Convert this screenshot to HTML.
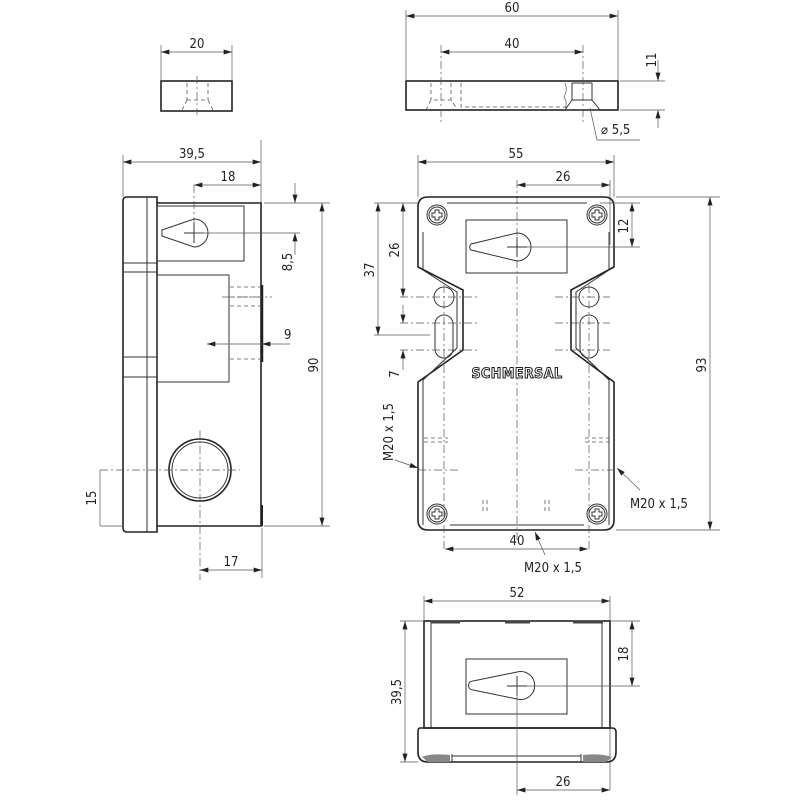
<!DOCTYPE html>
<html><head><meta charset="utf-8"><style>
html,body{margin:0;padding:0;background:#fff}
svg{display:block}
text{font-family:"DejaVu Sans Condensed","Liberation Sans",sans-serif;font-size:13px;fill:#222}
.o{fill:none;stroke:#222;stroke-width:1.6}
.t{fill:none;stroke:#333;stroke-width:1}
.d{fill:none;stroke:#555;stroke-width:0.7}
.c{fill:none;stroke:#555;stroke-width:0.7;stroke-dasharray:8 3 2 3}
.h{fill:none;stroke:#555;stroke-width:0.8;stroke-dasharray:4 3}
</style></head><body>
<svg width="800" height="800" viewBox="0 0 800 800" xmlns="http://www.w3.org/2000/svg">
<defs>
<marker id="a" viewBox="0 0 10 6" refX="10" refY="3" markerWidth="12" markerHeight="5" orient="auto-start-reverse" markerUnits="userSpaceOnUse"><path d="M0,0L10,3L0,6z" fill="#222"/></marker>
<g id="scr"><circle r="10" class="t"/><circle r="8" class="t"/><path d="M-5,-2L-2,-2L-2,-5L2,-5L2,-2L5,-2L5,2L2,2L2,5L-2,5L-2,2L-5,2z" class="t"/></g>
<g id="key"><path d="M0,-14 A14,14 0 1 1 0,14 L-46,4 A4,4 0 0 1 -46,-4 Z" class="t"/><path d="M-10,0H10M0,-10V10" class="d" style="stroke:#222;stroke-width:1"/></g>
</defs>

<!-- top small part -->
<line x1="161" y1="52" x2="232" y2="52" class="d" marker-start="url(#a)" marker-end="url(#a)"/>
<line x1="161" y1="45" x2="161" y2="80" class="d"/><line x1="232" y1="45" x2="232" y2="80" class="d"/>
<text x="197" y="48" text-anchor="middle">20</text>
<rect x="161" y="81" width="71" height="30" class="o"/>
<path d="M187,83V100M208,83V100M187,100H208M182,110L187,100M213,110L208,100" class="h"/>
<line x1="197" y1="76" x2="197" y2="115" class="c"/>

<!-- top right part -->
<line x1="406" y1="16" x2="618" y2="16" class="d" marker-start="url(#a)" marker-end="url(#a)"/>
<line x1="406" y1="10" x2="406" y2="80" class="d"/><line x1="618" y1="10" x2="618" y2="80" class="d"/>
<text x="512" y="12" text-anchor="middle">60</text>
<line x1="441" y1="52" x2="583" y2="52" class="d" marker-start="url(#a)" marker-end="url(#a)"/>
<text x="512" y="48" text-anchor="middle">40</text>
<rect x="406" y="81" width="212" height="29" class="o"/>
<path d="M431,83V100M451,83V100M461,83V107H567M426,110L431,100H451L458,110" class="h"/>
<path d="M572,83V100M592,83V100M572,83H592M565,110L572,100H592L600,110Z" class="t"/>
<path d="M565,83 Q568,90 564,97 Q568,103 565,108" class="d"/>
<line x1="441" y1="45" x2="441" y2="122" class="c"/><line x1="583" y1="45" x2="583" y2="122" class="c"/>
<line x1="620" y1="81" x2="665" y2="81" class="d"/><line x1="620" y1="110" x2="665" y2="110" class="d"/>
<line x1="658" y1="60" x2="658" y2="81" class="d" marker-end="url(#a)"/><line x1="658" y1="128" x2="658" y2="110" class="d" marker-end="url(#a)"/>
<text transform="translate(656,60) rotate(-90)" text-anchor="middle">11</text>
<line x1="597" y1="140" x2="590" y2="108" class="d"/><line x1="597" y1="140" x2="640" y2="140" class="d"/>
<text x="601" y="134">⌀ 5,5</text>

<!-- side view -->
<line x1="123" y1="162" x2="261" y2="162" class="d" marker-start="url(#a)" marker-end="url(#a)"/>
<text x="192" y="158" text-anchor="middle">39,5</text>
<line x1="123" y1="155" x2="123" y2="197" class="d"/><line x1="261" y1="140" x2="261" y2="203" class="d"/>
<line x1="194" y1="185" x2="261" y2="185" class="d" marker-start="url(#a)" marker-end="url(#a)"/>
<text x="228" y="181" text-anchor="middle">18</text>
<line x1="194" y1="185" x2="194" y2="240" class="c"/>
<path d="M127,197H157V532H127Q123,532 123,528V201Q123,197 127,197Z" class="o"/>
<line x1="147" y1="197" x2="147" y2="532" class="t"/>
<path d="M123,263H157M123,272H157M123,357H157M123,377H157" class="t"/>
<path d="M157,203H261V526H157" class="o"/>
<rect x="157" y="206" width="87" height="55" class="t"/>
<path d="M194,219 A14,14 0 1 1 194,247 L162,236 L162,230 Z" class="t"/>
<path d="M184,233H204M194,223V243" class="t"/>
<rect x="157" y="275" width="72" height="107" class="t"/>
<line x1="262" y1="285" x2="262" y2="362" style="stroke:#222;stroke-width:2.5"/>
<line x1="262" y1="505" x2="262" y2="526" style="stroke:#222;stroke-width:2"/>
<path d="M230,287H260M230,297H260M230,306H260M230,359H260" class="h"/>
<line x1="222" y1="297" x2="272" y2="297" class="c"/>
<line x1="207" y1="344" x2="262" y2="344" class="d" marker-start="url(#a)"/>
<line x1="290" y1="344" x2="262" y2="344" class="d" marker-end="url(#a)"/>
<text x="284" y="339">9</text>
<circle cx="200" cy="470" r="31" class="o"/><circle cx="200" cy="470" r="28" class="t"/>
<line x1="100" y1="470" x2="240" y2="470" class="c"/>
<line x1="200" y1="430" x2="200" y2="580" class="c"/>
<line x1="264" y1="203" x2="330" y2="203" class="d"/><line x1="264" y1="526" x2="330" y2="526" class="d"/>
<line x1="100" y1="526" x2="123" y2="526" class="d"/>
<line x1="322" y1="203" x2="322" y2="526" class="d" marker-start="url(#a)" marker-end="url(#a)"/>
<text transform="translate(318,365) rotate(-90)" text-anchor="middle">90</text>
<line x1="194" y1="233" x2="300" y2="233" class="d"/>
<line x1="295" y1="183" x2="295" y2="203" class="d" marker-end="url(#a)"/>
<line x1="295" y1="255" x2="295" y2="233" class="d" marker-end="url(#a)"/>
<text transform="translate(292,262) rotate(-90)" text-anchor="middle">8,5</text>
<line x1="100" y1="470" x2="100" y2="526" class="d"/>
<text transform="translate(96,498) rotate(-90)" text-anchor="middle">15</text>
<line x1="262" y1="528" x2="262" y2="578" class="d"/>
<line x1="200" y1="570" x2="262" y2="570" class="d" marker-start="url(#a)" marker-end="url(#a)"/>
<text x="231" y="566" text-anchor="middle">17</text>

<!-- front view -->
<line x1="418" y1="162" x2="614" y2="162" class="d" marker-start="url(#a)" marker-end="url(#a)"/>
<line x1="418" y1="155" x2="418" y2="197" class="d"/><line x1="614" y1="155" x2="614" y2="197" class="d"/>
<text x="516" y="158" text-anchor="middle">55</text>
<line x1="517" y1="185" x2="610" y2="185" class="d" marker-start="url(#a)" marker-end="url(#a)"/>
<line x1="610" y1="180" x2="610" y2="245" class="d"/>
<text x="563" y="181" text-anchor="middle">26</text>
<line x1="517" y1="180" x2="517" y2="540" class="c"/>
<path d="M428,197H604Q614,197 614,207V267L571,290V350L614,382V520Q614,530 604,530H428Q418,530 418,520V382L463,350V290L418,267V207Q418,197 428,197Z" class="o"/>
<path d="M423,232V270L457,292V348L423,380V525M609,232V270L576,292V348L609,380V525M447,203H587M450,525H584" class="t"/>
<use href="#scr" x="437" y="215"/><use href="#scr" x="597" y="215"/>
<use href="#scr" x="437" y="514"/><use href="#scr" x="597" y="514"/>
<rect x="466" y="220" width="101" height="53" class="t"/>
<path d="M517,233 A14,14 0 1 1 517,261 L471,250 A4,4 0 0 1 471,244 Z" class="t"/>
<path d="M507,247H527M517,237V257" class="t"/>
<circle cx="444" cy="297" r="10" class="t"/><circle cx="589" cy="297" r="10" class="t"/>
<rect x="435" y="315" width="18" height="43" rx="9" class="t"/>
<rect x="580" y="315" width="18" height="43" rx="9" class="t"/>
<path d="M400,297H478M400,323H478M400,350H478M555,297H610M555,323H610M555,350H610" class="c"/>
<line x1="444" y1="285" x2="444" y2="550" class="c"/><line x1="589" y1="285" x2="589" y2="550" class="c"/>
<text x="517" y="378" text-anchor="middle" style="font-size:14px;font-weight:bold;letter-spacing:0.5px;fill:#fff;stroke:#222;stroke-width:1">SCHMERSAL</text>
<path d="M424,438H448M424,442H448M585,438H609M585,442H609M483,500V512M487,500V512M545,500V512M549,500V512" class="h"/>
<path d="M418,470H460M575,470H614" class="c"/>
<line x1="378" y1="203" x2="378" y2="335" class="d" marker-start="url(#a)" marker-end="url(#a)"/>
<line x1="374" y1="203" x2="418" y2="203" class="d"/><line x1="374" y1="335" x2="430" y2="335" class="d"/>
<text transform="translate(374,270) rotate(-90)" text-anchor="middle">37</text>
<line x1="403" y1="203" x2="403" y2="297" class="d" marker-start="url(#a)" marker-end="url(#a)"/>
<text transform="translate(399,250) rotate(-90)" text-anchor="middle">26</text>
<line x1="403" y1="305" x2="403" y2="323" class="d" marker-end="url(#a)"/>
<line x1="403" y1="370" x2="403" y2="350" class="d" marker-end="url(#a)"/>
<text transform="translate(399,374) rotate(-90)" text-anchor="middle">7</text>
<line x1="395" y1="460" x2="418" y2="468" class="d" marker-end="url(#a)"/>
<text transform="translate(393,432) rotate(-90)" text-anchor="middle">M20 x 1,5</text>
<line x1="640" y1="490" x2="617" y2="468" class="d" marker-end="url(#a)"/>
<text x="630" y="508">M20 x 1,5</text>
<line x1="545" y1="555" x2="535" y2="532" class="d" marker-end="url(#a)"/>
<text x="553" y="572" text-anchor="middle">M20 x 1,5</text>
<line x1="445" y1="549" x2="588" y2="549" class="d" marker-start="url(#a)" marker-end="url(#a)"/>
<text x="517" y="545" text-anchor="middle">40</text>
<line x1="616" y1="197" x2="720" y2="197" class="d"/><line x1="616" y1="530" x2="720" y2="530" class="d"/>
<line x1="710" y1="197" x2="710" y2="530" class="d" marker-start="url(#a)" marker-end="url(#a)"/>
<text transform="translate(706,365) rotate(-90)" text-anchor="middle">93</text>
<line x1="600" y1="203" x2="640" y2="203" class="d"/><line x1="527" y1="247" x2="640" y2="247" class="d"/>
<line x1="632" y1="203" x2="632" y2="247" class="d" marker-start="url(#a)" marker-end="url(#a)"/>
<text transform="translate(628,226) rotate(-90)" text-anchor="middle">12</text>

<!-- bottom view -->
<line x1="424" y1="601" x2="610" y2="601" class="d" marker-start="url(#a)" marker-end="url(#a)"/>
<line x1="424" y1="596" x2="424" y2="620" class="d"/><line x1="610" y1="596" x2="610" y2="790" class="d"/>
<text x="517" y="597" text-anchor="middle">52</text>
<rect x="424" y="621" width="186" height="107" class="o"/>
<path d="M431,621V728M602,621V728" class="t"/>
<path d="M431,622H460M505,622H530M573,622H603" style="stroke:#444;stroke-width:3"/>
<path d="M420,728H612Q616,728 616,732V752Q616,762 606,762H428Q418,762 418,752V732Q418,728 420,728Z" class="o"/>
<path d="M452,754V762M581,754V762M452,756H581" class="t"/>
<path d="M422,757Q430,753 450,755V762H428ZM583,755Q600,753 612,757L606,762H583Z" fill="#888"/>
<rect x="466" y="659" width="101" height="55" class="t"/>
<path d="M517,672 A14,14 0 1 1 517,699 L473,690 A4,4 0 0 1 473,681 Z" class="t"/>
<path d="M507,686H527M517,676V696" class="t"/>
<line x1="517" y1="686" x2="517" y2="795" class="d"/>
<line x1="527" y1="686" x2="640" y2="686" class="d"/>
<line x1="610" y1="621" x2="640" y2="621" class="d"/>
<line x1="632" y1="621" x2="632" y2="686" class="d" marker-start="url(#a)" marker-end="url(#a)"/>
<text transform="translate(628,654) rotate(-90)" text-anchor="middle">18</text>
<line x1="400" y1="621" x2="424" y2="621" class="d"/><line x1="400" y1="762" x2="418" y2="762" class="d"/>
<line x1="405" y1="621" x2="405" y2="762" class="d" marker-start="url(#a)" marker-end="url(#a)"/>
<text transform="translate(401,692) rotate(-90)" text-anchor="middle">39,5</text>
<line x1="517" y1="790" x2="610" y2="790" class="d" marker-start="url(#a)" marker-end="url(#a)"/>
<text x="563" y="786" text-anchor="middle">26</text>
</svg>
</body></html>
